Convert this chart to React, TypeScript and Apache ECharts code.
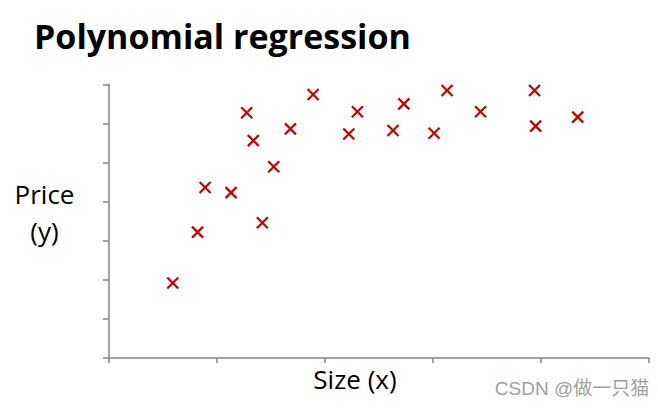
import React, { useEffect, useRef } from "react";
import * as echarts from "echarts";

const sizeX = [0.59, 0.82, 0.89, 1.13, 1.275, 1.336, 1.42, 1.525, 1.68, 1.89, 2.22, 2.3, 2.63, 2.73, 3.01, 3.13, 3.44, 3.94, 3.95, 4.34];
const priceY = [1.92, 3.22, 4.36, 4.23, 6.27, 5.56, 3.46, 4.89, 5.86, 6.74, 5.73, 6.3, 5.82, 6.5, 5.75, 6.84, 6.3, 6.84, 5.93, 6.16];

const titleText = "Polynomial regression";
const yLabel = ["Price", "(y)"];
const xLabel = "Size (x)";
const watermark = "CSDN @做一只猫";

export default function App() {
  const ref = useRef<HTMLDivElement>(null);
  useEffect(() => {
    if (!ref.current) return;
    const chart = echarts.init(ref.current, null, { renderer: "svg" });
    const data = sizeX.map((x, i) => [x, priceY[i]]);
    const axisColor = "#868686";
    const font = "'Open Sans', 'Noto Sans', sans-serif";
    chart.setOption({
      animation: false,
      backgroundColor: "#ffffff",
      grid: { left: 109, top: 84.3, width: 540, height: 273.7 },
      xAxis: {
        type: "value",
        min: 0,
        max: 5,
        interval: 1,
        axisLine: { show: true, lineStyle: { color: axisColor, width: 1.5 } },
        axisTick: { show: true, length: 5, lineStyle: { color: axisColor, width: 1.5 } },
        axisLabel: { show: false },
        splitLine: { show: false },
      },
      yAxis: {
        type: "value",
        min: 0,
        max: 7,
        interval: 1,
        axisLine: { show: true, lineStyle: { color: axisColor, width: 1.5 } },
        axisTick: { show: true, length: 6, lineStyle: { color: axisColor, width: 1.5 } },
        axisLabel: { show: false },
        splitLine: { show: false },
      },
      series: [
        {
          type: "custom",
          data,
          renderItem: (params: any, api: any) => {
            const p = api.coord([api.value(0), api.value(1)]);
            const h = 5.5;
            const style = { stroke: "#c40000", lineWidth: 2.2 };
            return {
              type: "group",
              children: [
                { type: "line", shape: { x1: p[0] - h, y1: p[1] - h, x2: p[0] + h, y2: p[1] + h }, style },
                { type: "line", shape: { x1: p[0] - h, y1: p[1] + h, x2: p[0] + h, y2: p[1] - h }, style },
              ],
            };
          },
        },
      ],
      graphic: [
        {
          type: "text",
          x: 34,
          y: 36,
          style: { text: titleText, font: `bold 34px ${font}`, fill: "#000", textAlign: "left", textVerticalAlign: "middle" },
        },
        {
          type: "text",
          x: 44.5,
          y: 194,
          style: { text: yLabel[0], font: `26px ${font}`, fill: "#000", textAlign: "center", textVerticalAlign: "middle" },
        },
        {
          type: "text",
          x: 44.5,
          y: 231,
          style: { text: yLabel[1], font: `26px ${font}`, fill: "#000", textAlign: "center", textVerticalAlign: "middle" },
        },
        {
          type: "text",
          x: 355,
          y: 379,
          style: { text: xLabel, font: `26px ${font}`, fill: "#000", textAlign: "center", textVerticalAlign: "middle" },
        },
        {
          type: "text",
          x: 572,
          y: 388,
          style: { text: watermark, font: `19px 'Liberation Sans', 'Noto Sans CJK SC', sans-serif`, fill: "#a0a0a0", textAlign: "center", textVerticalAlign: "middle" },
        },
      ],
    });
    return () => chart.dispose();
  }, []);
  return <div ref={ref} style={{ position: "fixed", left: 0, top: 0, width: 658, height: 409 }} />;
}
